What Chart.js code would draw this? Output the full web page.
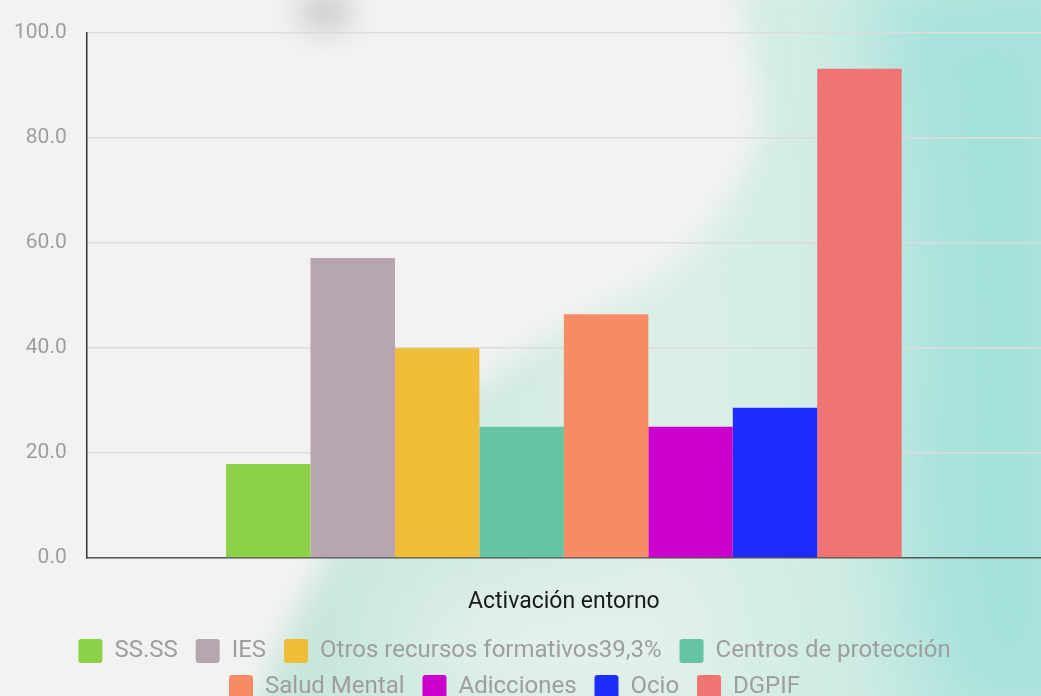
<!DOCTYPE html>
<html>
<head>
<meta charset="utf-8">
<script src="https://cdn.jsdelivr.net/npm/chart.js@4"></script>
<style>
  html, body { margin: 0; padding: 0; }
  body { width: 1041px; height: 696px; overflow: hidden; background: #f2f2f2; }
  #bg { position: absolute; left: 0; top: 0; }
  #wrap { position: absolute; left: 0; top: 0; width: 1041px; height: 696px; }
</style>
</head>
<body>
<!-- watercolor-ish backdrop, only decoration -->
<svg id="bg" width="1041" height="696">
  <defs>
    <filter id="soft" x="-50%" y="-50%" width="200%" height="200%"><feGaussianBlur stdDeviation="14"/></filter>
    <filter id="soft2" x="-50%" y="-50%" width="200%" height="200%"><feGaussianBlur stdDeviation="40"/></filter>
    <linearGradient id="mint" x1="0" y1="0" x2="1" y2="0">
      <stop offset="0" stop-color="#c6e5db"/>
      <stop offset="0.5" stop-color="#dcefe6"/>
      <stop offset="1" stop-color="#b9e6df"/>
    </linearGradient>
  </defs>
  <path d="M735,-20 C750,40 770,120 755,150 C720,230 680,270 610,305 C530,345 480,380 430,430 C370,490 310,560 250,720 L1100,720 L1100,-20 Z"
        fill="url(#mint)" filter="url(#soft)"/>
  <path d="M870,-20 L1100,-20 L1100,720 L940,720 C905,600 895,500 905,380 C915,250 890,120 870,-20 Z"
        fill="#a6e2dc" filter="url(#soft2)"/>
  <ellipse cx="325" cy="12" rx="28" ry="22" fill="#cfcfcf" filter="url(#soft)"/>
  <ellipse cx="560" cy="640" rx="160" ry="50" fill="#e4f1ec" filter="url(#soft2)"/>
</svg>
<div id="wrap"><canvas id="chart"></canvas></div>
<script>
const categories = ["Activación entorno"];
const seriesNames = ["SS.SS", "IES", "Otros recursos formativos39,3%", "Centros de protección",
                     "Salud Mental", "Adicciones", "Ocio", "DGPIF"];
const seriesValues = [17.9, 57.1, 39.9, 25.0, 46.4, 25.0, 28.6, 93.1];
const seriesColors = ["#8dd14a", "#b7a6b0", "#f0bd38", "#63c4a6",
                      "#f68c66", "#cc00cc", "#1f2cff", "#f07474"];

Chart.defaults.font.family = "Roboto, 'Noto Sans', sans-serif";

let datasets = [];
for (let i = 0; i < seriesNames.length; i++) {
    datasets.push({
        label: seriesNames[i],
        data: [seriesValues[i]],
        backgroundColor: seriesColors[i],
        borderWidth: 0
    });
}

const ctx = document.getElementById('chart').getContext('2d');
new Chart(ctx, {
    type: 'bar',
    data: { labels: categories, datasets: datasets },
    options: {
        responsive: true,
        maintainAspectRatio: false,
        animation: false,
        layout: { padding: { top: 23, left: -6, right: 0, bottom: -13 } },
        datasets: { bar: { barPercentage: 1, categoryPercentage: 0.708 } },
        plugins: {
            legend: {
                position: 'bottom',
                labels: {
                    color: '#9e9e9e',
                    font: { size: 24 },
                    boxWidth: 24,
                    boxHeight: 24,
                    useBorderRadius: true,
                    borderRadius: 3,
                    padding: 12,
                    // a trailing space widens each item so the rows break as in the original
                    generateLabels: chart => Chart.defaults.plugins.legend.labels.generateLabels(chart)
                        .map(item => { item.text = item.text + ' '; return item; })
                }
            },
            tooltip: { enabled: false }
        },
        scales: {
            x: {
                grid: { display: false, drawTicks: false },
                border: { color: '#555', width: 1.5 },
                ticks: { color: '#1a1a1a', font: { size: 23 }, padding: 30 },
                afterFit: scale => { scale.height = 69; }
            },
            y: {
                min: 0,
                max: 100,
                grid: { color: '#dcdcdc', lineWidth: 1.5, drawTicks: false },
                border: { color: '#333', width: 1.5 },
                ticks: {
                    stepSize: 20,
                    color: '#9e9e9e',
                    font: { size: 21 },
                    padding: 20,
                    callback: v => v.toFixed(1)
                }
            }
        }
    }
});
</script>
</body>
</html>
